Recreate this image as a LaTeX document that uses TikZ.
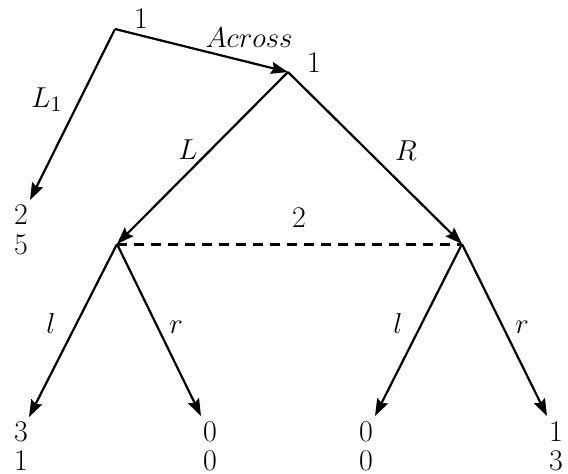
\documentclass[tikz,border=0pt]{standalone}
\usetikzlibrary{arrows.meta}
\begin{document}
\begin{tikzpicture}[x=0.5pt,y=-0.5pt,
  font=\fontsize{15}{18}\selectfont,
  mv/.style={line width=1.1pt,line join=miter,-{Stealth[length=8.5pt,width=6pt,inset=1.2pt]}},
  infoset/.style={line width=1.5pt,dash pattern=on 5pt off 3.5pt},
  lab/.style={anchor=base,inner sep=0pt}]
\useasboundingbox (0,0) rectangle (568,473);
% decision nodes and ends
\coordinate (root) at (115,29);
\coordinate (n1) at (288,72);
\coordinate (t1) at (30,200);
\coordinate (A) at (117,244);
\coordinate (B) at (462,244);
\coordinate (la) at (29,417);
\coordinate (ra) at (201,416);
\coordinate (lb) at (375,416);
\coordinate (rb) at (547,416);
% moves
\draw[mv] (root) -- (n1);
\draw[mv] (root) -- (t1);
\draw[mv] (n1) -- (A);
\draw[mv] (n1) -- (B);
\draw[mv] (A) -- (la);
\draw[mv] (A) -- (ra);
\draw[mv] (B) -- (lb);
\draw[mv] (B) -- (rb);
\draw[infoset] (A) -- (B);
% player labels
\node[lab] (p1) at (141,28) {1};
\node[lab] (p1b) at (314,72) {1};
\node[lab] (p2) at (299,227) {2};
% move labels
\node[lab] (across) at (249,47) {$Across$};
\node[lab] (l1) at (47,107) {$L_1$};
\node[lab] (lL) at (188,159) {$L$};
\node[lab] (lR) at (406,160) {$R$};
\node[lab] (ll1) at (51,333) {$l$};
\node[lab] (lr1) at (176,333) {$r$};
\node[lab] (ll2) at (398,333) {$l$};
\node[lab] (lr2) at (522,333) {$r$};
% payoffs
\node[lab] (u0a) at (21,224) {2};
\node[lab] (u0b) at (21,254) {5};
\node[lab] (u1a) at (21,441) {3};
\node[lab] (u1b) at (21,470) {1};
\node[lab] (u2a) at (210,441) {0};
\node[lab] (u2b) at (210,470) {0};
\node[lab] (u3a) at (366,441) {0};
\node[lab] (u3b) at (366,470) {0};
\node[lab] (u4a) at (556,441) {1};
\node[lab] (u4b) at (556,470) {3};
\end{tikzpicture}
\end{document}
